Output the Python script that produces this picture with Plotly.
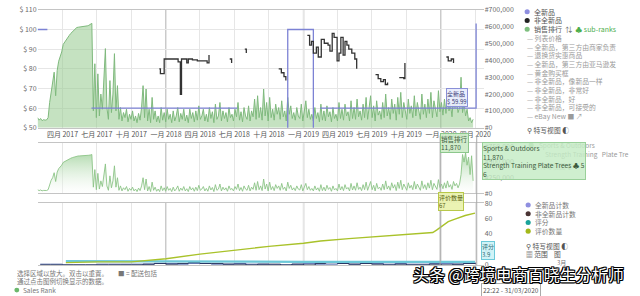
import plotly.graph_objects as go
import pandas as pd

W, H = 640, 296
def px(x): return x / W
def py(y): return 1 - y / H

# ---------------- data ----------------
# sales rank (thousands), one value every 4 days from 2017-01-25
rank_body_k = [
    60, 45, 55, 42, 48, 45, 47, 60, 150, 210,
    250, 330, 190, 340, 395, 420, 450, 495, 510, 525,
    535, 548, 560, 570, 578, 585, 595, 597, 598, 598,
    600, 600, 602, 605, 608, 612, 620, 100, 380, 60,
    320, 70, 200, 110, 300, 470, 120, 50, 280, 90,
    200, 440, 100, 250, 50, 120, 40, 90, 60, 110,
    35, 80, 50, 100, 40, 70, 30, 85, 45, 120,
    250, 60, 230, 40, 110, 30, 180, 50, 100, 35,
    70, 30, 120, 45, 90, 35, 110, 50, 80, 30,
    100, 40, 70, 120, 35, 85, 50, 110, 40, 75,
    30, 110, 55, 90, 35, 100, 45, 130, 50, 70,
    110, 40, 80, 35, 120, 55, 95, 30, 140, 50,
    70, 150, 40, 100, 55, 90, 35, 120, 60, 80,
    40, 110, 65, 150, 45, 95, 35, 120, 70, 50,
    130, 40, 100, 65, 170, 50, 190, 60, 120, 45,
    230, 70, 150, 40, 180, 60, 110, 45, 140, 80,
    120, 50, 160, 65, 100, 40, 180, 80, 130, 55,
    90, 45, 120, 70, 55, 140, 40, 100, 160, 60,
    110, 50, 80, 40, 120, 55, 90, 35, 140, 45,
    100, 40, 130, 65, 95, 35, 120, 55, 80, 40,
    150, 55, 110, 45, 140, 70, 95, 40, 160, 55,
    120, 50, 170, 65, 100, 45, 140, 60, 180, 50,
    110, 190, 60, 130, 40, 160, 75, 100, 50, 150,
    60, 200, 70, 120, 50, 170, 85, 140, 45, 180,
    80, 210, 60, 150, 100, 50, 170, 85, 130, 60,
    190, 70, 150, 95, 50, 200, 80, 140, 60, 170,
    85, 210, 60, 160, 110, 65, 220, 95, 150, 75,
    170, 85, 200, 100, 140, 65, 190, 120, 160, 90,
]
rank_tail_main_k = [120, 300, 90, 150, 70, 110, 40, 60, 30, 50]
rank_tail_nav_k = [150, 300, 620, 500, 650, 450, 580, 300, 600, 200]
rank_start = "2017-01-25"

# new price ($)
new_dates = ["2017-01-25", "2017-02-20", "2017-02-21",
             "2017-06-17", "2018-07-09", "2018-07-10",
             "2018-11-19", "2018-11-20", "2019-01-27", "2019-01-28",
             "2019-02-14", "2020-04-02", "2020-04-03"]
new_price = [100, 100, None,
             59.99, 59.99, None,
             45, 100, 45, None,
             59.99, 59.99, 103]

# used price ($)
used_dates = ["2017-11-25", "2017-11-30", "2017-12-06", "2017-12-09",
              "2017-12-14", "2017-12-17", "2017-12-27", "2018-02-02", "2018-02-08",
              "2018-02-11", "2018-02-25", "2018-03-01", "2018-03-12", "2018-03-25",
              "2018-04-20", "2018-04-25", "2018-04-28",
              "2018-05-08", "2018-05-14", "2018-05-28", "2018-06-02",
              "2018-06-19", "2018-06-24", "2018-06-29",
              "2018-07-29", "2018-08-02", "2018-08-05",
              "2018-09-14", "2018-09-17",
              "2018-10-27", "2018-11-03", "2018-11-10", "2018-11-15", "2018-11-20",
              "2018-12-14", "2018-12-18",
              "2019-01-11", "2019-01-17", "2019-01-22", "2019-01-27", "2019-02-04",
              "2019-02-09", "2019-02-17", "2019-02-25", "2019-03-07", "2019-03-12",
              "2019-03-18", "2019-03-23", "2019-03-31", "2019-04-05", "2019-04-10",
              "2019-04-16", "2019-04-21", "2019-04-26", "2019-05-01", "2019-05-09",
              "2019-05-17", "2019-05-22", "2019-05-26",
              "2019-07-11", "2019-07-18", "2019-07-25", "2019-08-01", "2019-08-06",
              "2019-08-12", "2019-08-18",
              "2019-09-12", "2019-09-24", "2019-09-27", "2019-09-30",
              "2020-01-15", "2020-01-20", "2020-01-28", "2020-02-03", "2020-02-10"]
used_price = [80, None, 82, None,
              80, 77.5, 85, 83.5, 67,
              85, 83, 85, 84.5, 84,
              83, 87, None,
              90, None, 85.5, None,
              85, 83, None,
              90, 88, None,
              80, None,
              80, 78, 76, 74, None,
              84.5, None,
              97, 92, 94, 88, 91,
              86, 95, 93, 92, 89,
              98, 96, 84, 88, 96,
              87, 94, 92, 90, 88,
              85, 80, None,
              77, 75, 73.5, 74.5, 72,
              73, None,
              75.5, 75, 83, None,
              86, 84, 85, 83, None]

# review count / rating
review_dates = ["2017-04-10", "2017-07-01", "2017-10-01", "2017-11-15", "2018-01-01",
                "2018-04-01", "2018-07-01", "2018-10-01", "2019-01-01", "2019-02-15",
                "2019-05-01", "2019-08-01", "2019-11-01", "2019-12-10", "2019-12-20",
                "2020-01-05", "2020-01-20", "2020-02-05", "2020-02-20", "2020-03-05",
                "2020-03-31"]
review_count = [3, 4, 4, 6, 8, 14, 19, 24, 28, 31, 34, 37, 40, 42, 45, 51, 56, 59, 62, 64, 67]
rating_dates = ["2017-04-10", "2017-10-01", "2018-06-01", "2019-01-01", "2019-09-01", "2020-03-31"]
rating = [5.0, 4.5, 4.2, 4.0, 4.1, 3.9]

count_start = "2017-02-01"
new_offer_count = [1, 1, 0, 0, 0, 1, 1, 1, 1, 1, 2, 2, 1, 2, 2, 1, 1, 2, 1, 1,
                   0, 0, 1, 2, 1, 1, 2, 1, 2, 2, 1, 2, 1, 1, 2, 2, 1, 2, 3]
used_offer_count = [0, 0, 0, 0, 0, 0, 0, 0, 0, 1, 2, 1, 2, 3, 2, 2, 1, 1, 0, 1,
                    1, 0, 1, 0, 2, 3, 2, 1, 2, 1, 0, 1, 0, 0, 1, 0, 1, 2, 1]

tick_dates = ["2017-04-01", "2017-07-01", "2017-10-01", "2018-01-01", "2018-04-01",
              "2018-07-01", "2018-10-01", "2019-01-01", "2019-04-01", "2019-07-01",
              "2019-10-01", "2020-01-01", "2020-04-01"]
tick_text = ["四月 2017", "七月 2017", "十月 2017", "一月 2018", "四月 2018", "七月 2018",
             "十月 2018", "一月 2019", "四月 2019", "七月 2019", "十月 2019", "一月 2020",
             "四月 2020"]
year_lines = ["2018-01-01", "2019-01-01", "2020-01-01"]

price_ticks = [50, 60, 70, 80, 90, 100, 110]
rank_ticks = [0, 100000, 200000, 300000, 400000, 500000, 600000, 700000]
nav_ticks = [0, 250000, 500000, 750000]
count_ticks = [0, 20, 40, 60, 80]

X_RANGE = ["2017-01-25", "2020-04-23"]

# ---------------- build ----------------
rank_main = [v * 1000 for v in rank_body_k + rank_tail_main_k]
rank_nav = [v * 1000 for v in rank_body_k + rank_tail_nav_k]
rank_dates = pd.date_range(rank_start, periods=len(rank_main), freq="4D")
count_dates = pd.date_range(count_start, periods=len(new_offer_count), freq="MS")

CJK = "Noto Sans CJK SC"
GREEN_LINE = "#7fb97d"
NEW_C = "#7c82d4"

fig = go.Figure()

fig.add_trace(go.Scatter(x=rank_dates, y=rank_main, xaxis="x", yaxis="y", mode="lines",
                         line=dict(color=GREEN_LINE, width=1), fill="tozeroy",
                         fillcolor="rgba(150,202,142,0.55)", hoverinfo="skip"))
fig.add_trace(go.Scatter(x=new_dates, y=new_price, xaxis="x", yaxis="y2", mode="lines",
                         line=dict(color=NEW_C, width=1.3, shape="hv"), connectgaps=False))
fig.add_trace(go.Scatter(x=used_dates, y=used_price, xaxis="x", yaxis="y2", mode="lines",
                         line=dict(color="#333333", width=1.3, shape="hv"), connectgaps=False))

fig.add_trace(go.Scatter(x=rank_dates, y=rank_nav, xaxis="x2", yaxis="y3", mode="lines",
                         line=dict(color="#8cc487", width=0.9), fill="tozeroy",
                         fillgradient=dict(type="vertical",
                                           colorscale=[[0, "rgba(255,255,255,0.3)"],
                                                       [1, "rgba(150,205,145,0.75)"]])))

fig.add_trace(go.Scatter(x=count_dates, y=new_offer_count, xaxis="x3", yaxis="y4", mode="lines",
                         line=dict(color="#5a6fb0", width=1, shape="hv")))
fig.add_trace(go.Scatter(x=count_dates, y=used_offer_count, xaxis="x3", yaxis="y4", mode="lines",
                         line=dict(color="#23305a", width=1, shape="hv")))
fig.add_trace(go.Scatter(x=rating_dates, y=rating, xaxis="x3", yaxis="y4", mode="lines",
                         line=dict(color="#6cc9d9", width=2.2)))
fig.add_trace(go.Scatter(x=review_dates, y=review_count, xaxis="x3", yaxis="y4", mode="lines",
                         line=dict(color="#a9c22a", width=1.4)))

axis_font = dict(family=CJK, size=7, color="#6a6a6a")
common_x = dict(range=X_RANGE, type="date", showgrid=True, gridcolor="#e6e6e6", gridwidth=1,
                tickvals=tick_dates, showline=True, mirror=True, linecolor="#c4c4c4",
                zeroline=False, ticks="", fixedrange=True)

fig.update_layout(
    width=W, height=H, margin=dict(l=0, r=0, t=0, b=0),
    paper_bgcolor="white", plot_bgcolor="white", showlegend=False,
    xaxis=dict(common_x, domain=[px(38), px(489)], anchor="y", ticktext=tick_text,
               tickfont=dict(family=CJK, size=7, color="#555")),
    yaxis=dict(domain=[py(126), py(4)], anchor="x", side="right", range=[0, 700000],
               tickvals=rank_ticks, ticktext=["#" + format(v, ",") for v in rank_ticks],
               showgrid=False, zeroline=False, ticks="", tickfont=axis_font),
    yaxis2=dict(overlaying="y", anchor="x", side="left", range=[50, 110],
                tickvals=price_ticks, ticktext=["$ %d" % v for v in price_ticks],
                showgrid=True, gridcolor="#e6e6e6", zeroline=False, ticks="",
                tickfont=axis_font),
    xaxis2=dict(common_x, domain=[px(38), px(489)], anchor="y3", showticklabels=False),
    yaxis3=dict(domain=[py(194), py(142)], anchor="x2", side="right", range=[0, 800000],
                tickvals=nav_ticks, ticktext=["#" + format(v, ",") for v in nav_ticks],
                showgrid=False, zeroline=False, ticks="", tickfont=axis_font),
    xaxis3=dict(common_x, domain=[px(38), px(489)], anchor="y4", showticklabels=False),
    yaxis4=dict(domain=[py(268), py(204)], anchor="x3", side="right", range=[0, 80],
                tickvals=count_ticks, ticktext=[str(v) for v in count_ticks],
                showgrid=False, zeroline=False, ticks="", tickfont=axis_font),
)

shapes = []
for xr, yr in [("x", "y"), ("x2", "y3"), ("x3", "y4")]:
    for d in year_lines:
        shapes.append(dict(type="line", xref=xr, yref=yr + " domain", x0=d, x1=d, y0=0, y1=1,
                           line=dict(color="#a6a6a6", width=1.3), layer="below"))
for gx in [445, 482]:
    shapes.append(dict(type="line", xref="paper", yref="paper", x0=px(gx), x1=px(gx),
                       y0=py(268), y1=py(134), line=dict(color="#a8a8a8", width=1)))

annotations = []

def txt(x, y, s, size=7, color="#777", anchor="left", **kw):
    annotations.append(dict(x=px(x), y=py(y), xref="paper", yref="paper", text=s,
                            showarrow=False, xanchor=anchor, yanchor="middle",
                            font=dict(family=CJK, size=size, color=color), **kw))

def dot(cx, cy, color, r=2.6):
    shapes.append(dict(type="circle", xref="paper", yref="paper",
                       x0=px(cx - r), x1=px(cx + r), y0=py(cy + r), y1=py(cy - r),
                       fillcolor=color, line=dict(width=0)))

# top legend
dot(533, 6, "#8f8fe0")
txt(538, 6, "全新品", color="#555")
dot(533, 15, "#222")
txt(538, 15, "非全新品", color="#555")
dot(533, 24, "#7fbf7f")
txt(538, 24, "销售排行  ⇅  <span style='color:#4cae4c'>♣ sub-ranks</span>", color="#555")
dash_items = ["列表价格", "全新品，第三方由商家负责", "退换货实惠商品", "全新品，第三方由亚马逊发",
              "黄金购买框", "非全新品，像新品一样", "非全新品，非常好", "非全新品，好",
              "非全新品，可接受的", "eBay New ■ ↗"]
for i, s in enumerate(dash_items):
    txt(531, 33 + i * 9, "— " + s, color="#9a9a9a", size=6.8)
txt(531, 128, "⚲ 特写视图 ◐", color="#555", size=6.8)

# faded sub-rank legend behind tooltip
dot(537, 144, "#9cc79c")
txt(543, 144, "Sports & Outdoors", color="#999", size=6.5)
txt(549, 153, "Strength Training   Plate Tre", color="#999", size=6.5)
txt(537, 166, "⚲ 特写视图 ◐", color="#bbb", size=6.5)

# bottom legend
for cy, col, s in [(206, "#8f8fe0", "全新品计数"), (215, "#4a3434", "非全新品计数"),
                   (224, "#1aa39a", "评分"), (233, "#a3b81a", "评价数量")]:
    dot(534, cy, col)
    txt(539, cy, s, color="#777", size=6.8)
txt(530, 248, "⚲ 特写视图 ◐", color="#555", size=6.8)
txt(530, 257, "▦ 范围    图", color="#555", size=6.8)
txt(561, 265, "3月", color="#777", size=6)

# bottom-left notes
txt(15, 276, "选择区域以放大。双击以重置。", size=6.5, color="#777")
txt(117, 276, "■ = 配送包括", size=6.5, color="#777")
txt(15, 285, "通过点击图例切换显示的数据。", size=6.5, color="#777")
dot(17, 294, "#6cb86c", r=2.5)
txt(21, 294, "Sales Rank", size=6.5, color="#777")

def tip(x, y, s, bg, border, color="#333", size=6):
    annotations.append(dict(x=px(x), y=py(y), xref="paper", yref="paper", text=s,
                            showarrow=False, xanchor="left", yanchor="top", align="left",
                            bgcolor=bg, bordercolor=border, borderwidth=1, borderpad=0,
                            font=dict(family=CJK, size=size, color=color)))

tip(451, 85, "全新品<br>$ 59.99", "rgba(232,236,252,0.92)", "#8a90d8", color="#3a3f7a", size=6)
tip(445, 131, "销售排行<br>11,870", "rgba(205,236,200,0.92)", "#8cc78c", color="#3c5a3c", size=6.5)
tip(487, 141, "Sports &amp; Outdoors<br>11,870<br>Strength Training Plate Trees ♣ 5<br>6",
    "rgba(196,236,196,0.82)", "#9ad09a", color="#3c5a3c", size=6.6)
tip(443, 193, "评价数量<br>67", "rgba(234,242,175,0.95)", "#b8c84a", color="#55600f", size=6)
tip(486, 243, "评分<br>3.9", "rgba(205,242,247,0.95)", "#6cc9d9", color="#2a6a74", size=6)

annotations.append(dict(x=px(486), y=py(287), xref="paper", yref="paper",
                        text="22:22 - 31/03/2020", showarrow=False, xanchor="left",
                        yanchor="top", bgcolor="white", bordercolor="#aaa", borderwidth=1,
                        borderpad=1, font=dict(family=CJK, size=6.5, color="#555")))
annotations.append(dict(x=px(524), y=py(277), xref="paper", yref="paper",
                        text="头条 @跨境电商百晓生分析师", showarrow=False,
                        xanchor="center", yanchor="middle",
                        font=dict(family=CJK, size=16, color="white",
                                  shadow="1px 1px 0 #000, -1px -1px 0 #000, 1px -1px 0 #000, -1px 1px 0 #000, 0 1px 0 #000, 1px 0 0 #000, 0 -1px 0 #000, -1px 0 0 #000")))

fig.update_layout(shapes=shapes, annotations=annotations)
fig.write_html("out.html")
